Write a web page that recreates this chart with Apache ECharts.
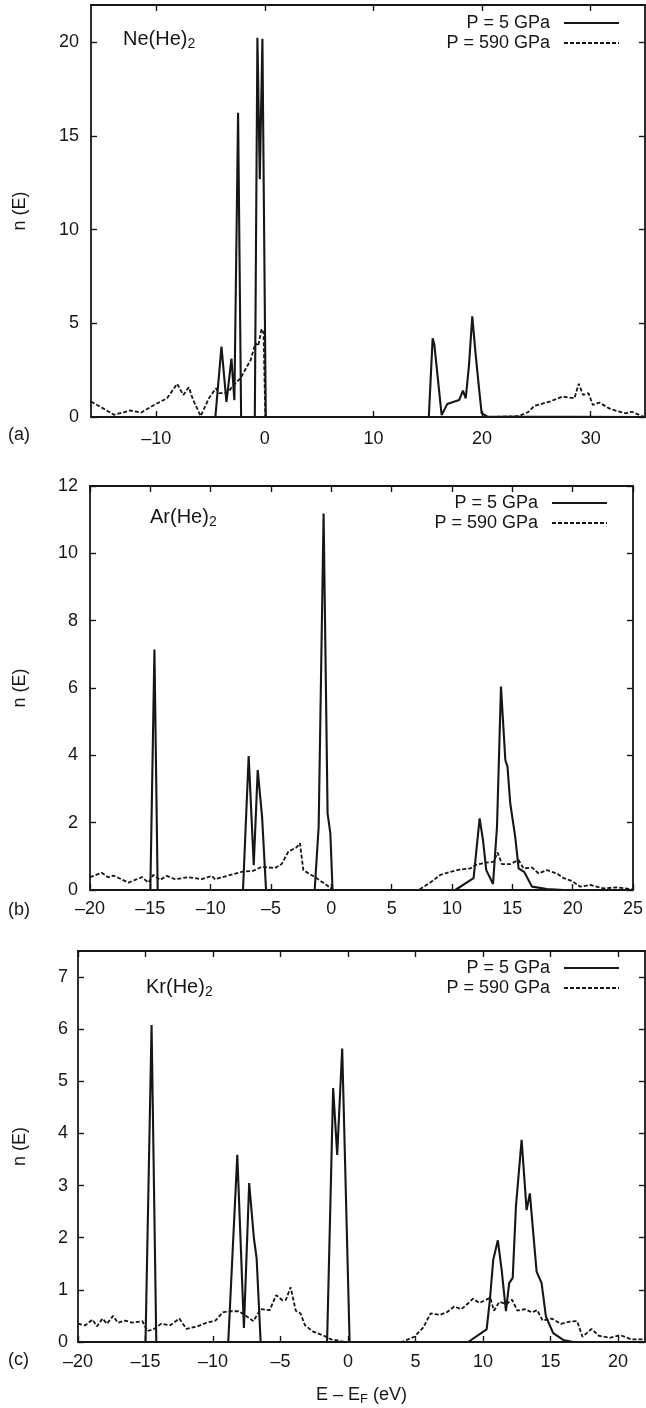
<!DOCTYPE html>
<html>
<head>
<meta charset="utf-8">
<script src="https://cdn.jsdelivr.net/npm/echarts@6/dist/echarts.min.js"></script>
<style>
  html, body { margin: 0; padding: 0; background: #ffffff; }
  #chart { width: 646px; height: 1408px; }
</style>
</head>
<body>
<div id="chart"></div>
<script>
// Density of states n(E) versus E - E_F (eV), pairs of [energy, n]
// (a) Ne(He)2
const neLowP = [[-16,0],[-4.55,0],[-3.99,3.76],[-3.53,0.8],[-3.07,3.12],[-2.8,0.9],[-2.46,16.25],[-2.18,0],
  [-0.92,0],[-0.68,20.25],[-0.46,12.7],[-0.22,20.2],[0.09,0],[15.1,0],[15.45,4.2],[15.6,3.9],[16.28,0.1],
  [16.8,0.7],[17.4,0.82],[17.9,0.91],[18.24,1.41],[18.5,1.0],[18.8,2.8],[19.1,5.37],[19.4,3.4],[19.71,1.6],
  [19.96,0.2],[20.5,0.02],[35,0]];
const neHighP = [[-16,0.82],[-15,0.5],[-13.9,0.12],[-13,0.25],[-12.4,0.35],[-11.4,0.23],[-10.2,0.64],[-9,1.0],
  [-8.07,1.77],[-7.5,1.18],[-7.0,1.59],[-6.6,0.91],[-5.9,0.05],[-5.15,1.0],[-4.5,1.53],[-4.2,1.27],[-3.5,1.27],
  [-2.85,1.71],[-2.24,2.07],[-1.3,3.05],[-0.86,3.95],[-0.6,3.8],[-0.3,4.7],[-0.12,4.5],[0.05,0],[21,0],
  [23.4,0.05],[24.3,0.28],[24.8,0.59],[26.2,0.82],[27.4,1.09],[28.5,1.0],[28.9,1.77],[29.3,1.18],[29.8,1.27],
  [30.2,0.64],[30.8,0.77],[31.7,0.46],[32.3,0.34],[33.2,0.2],[33.8,0.28],[34.7,0.05],[35,0.02]];

// (b) Ar(He)2
const arLowP = [[-20,0],[-15.0,0],[-14.66,7.14],[-14.39,0],[-7.32,0],[-6.85,3.98],[-6.43,0.74],[-6.1,3.56],
  [-5.74,2.18],[-5.41,0],[-1.38,0],[-1.05,1.88],[-0.64,11.18],[-0.31,2.27],[-0.08,1.68],[0.1,0],[10.27,0],
  [11.79,0.35],[12.29,2.13],[12.57,1.48],[12.84,0.59],[13.4,0.18],[13.73,1.88],[14.06,6.04],[14.42,3.86],
  [14.6,3.66],[14.83,2.57],[15.24,1.58],[15.52,0.64],[16.0,0.53],[16.63,0.1],[17.87,0.03],[19.25,0],[25,0]];
const arHighP = [[-20,0.38],[-19.03,0.51],[-18.5,0.38],[-18.06,0.43],[-16.82,0.22],[-16.26,0.3],[-15.7,0.38],
  [-15.16,0.22],[-14.75,0.45],[-14.19,0.3],[-13.64,0.42],[-12.95,0.32],[-11.85,0.38],[-10.74,0.32],[-9.92,0.42],
  [-9.64,0.32],[-8.53,0.43],[-7.43,0.54],[-6.46,0.57],[-5.77,0.69],[-4.67,0.65],[-4.12,0.77],[-3.56,1.14],
  [-2.87,1.27],[-2.6,1.39],[-2.32,0.59],[-1.35,0.38],[-0.52,0.18],[0.17,0],[7.23,0],[8.2,0.22],[9.03,0.45],
  [9.86,0.54],[10.69,0.61],[11.52,0.64],[11.93,0.74],[12.76,0.81],[13.45,0.84],[13.78,1.11],[14.14,0.77],
  [14.83,0.77],[15.52,0.89],[15.93,0.64],[16.63,0.67],[17.18,0.49],[17.87,0.59],[18.7,0.49],[19.25,0.35],
  [19.94,0.27],[20.63,0.1],[21.46,0.15],[22.56,0.05],[23.67,0.08],[25,0.02]];

// (c) Kr(He)2
const krLowP = [[-20,0],[-15.0,0],[-14.55,6.08],[-14.2,0],[-8.87,0],[-8.2,3.59],[-7.71,0.27],[-7.32,3.05],
  [-6.97,1.99],[-6.77,1.61],[-6.47,0],[-1.55,0],[-1.1,4.87],[-0.8,3.59],[-0.43,5.63],[0.12,0],[8.9,0],
  [10.27,0.24],[10.51,0.81],[10.76,1.58],[11.1,1.95],[11.38,1.39],[11.7,0.59],[11.94,1.13],[12.2,1.23],
  [12.44,2.6],[12.86,3.88],[13.23,2.53],[13.47,2.85],[13.97,1.35],[14.34,1.13],[14.66,0.49],[15.2,0.17],
  [15.94,0.04],[16.68,0],[22,0]];
const krHighP = [[-20,0.35],[-19.46,0.32],[-18.93,0.43],[-18.6,0.3],[-18.18,0.45],[-17.86,0.35],[-17.4,0.5],
  [-17.05,0.37],[-16.52,0.41],[-15.98,0.37],[-15.23,0.4],[-14.86,0.21],[-14.37,0.25],[-13.84,0.35],[-13.17,0.32],
  [-12.5,0.45],[-11.96,0.25],[-11.16,0.3],[-10.49,0.37],[-9.82,0.41],[-9.28,0.57],[-8.75,0.59],[-8.08,0.59],
  [-7.54,0.5],[-7.01,0.4],[-6.47,0.63],[-5.8,0.61],[-5.32,0.9],[-4.86,0.8],[-4.6,0.81],[-4.25,1.05],
  [-3.87,0.6],[-3.52,0.55],[-3.18,0.32],[-2.59,0.2],[-1.78,0.12],[-1.25,0.05],[-0.18,0],[3.98,0],[4.91,0.1],
  [5.58,0.28],[6.12,0.55],[6.79,0.52],[7.32,0.57],[7.86,0.68],[8.4,0.63],[8.8,0.72],[9.26,0.83],[9.74,0.75],
  [10.54,0.85],[10.81,0.6],[11.21,0.77],[11.75,0.73],[12.15,0.81],[12.55,0.6],[13.09,0.63],[13.62,0.57],
  [14.02,0.61],[14.42,0.41],[15.1,0.45],[15.76,0.35],[16.43,0.39],[16.97,0.4],[17.37,0.1],[18.04,0.25],
  [18.58,0.12],[19.38,0.08],[20.18,0.13],[20.99,0.05],[22,0.05]];

// Legend names and tick labels
const seriesNames = ['P = 5 GPa', 'P = 590 GPa'];
const neXTicks = [-10, 0, 10, 20, 30];
const neYTicks = [0, 5, 10, 15, 20];
const arXTicks = [-20, -15, -10, -5, 0, 5, 10, 15, 20, 25];
const arYTicks = [0, 2, 4, 6, 8, 10, 12];
const krXTicks = [-20, -15, -10, -5, 0, 5, 10, 15, 20];
const krYTicks = [0, 1, 2, 3, 4, 5, 6, 7];

const ink = '#161616';
const font = '"Liberation Sans", Arial, Helvetica, sans-serif';
const fs = 18;

// Panel layout: plot frame, axis ranges and text placement
const panels = [
  { low: neLowP, high: neHighP, xr: [-16, 35], yr: [0, 22], xt: neXTicks, yt: neYTicks,
    grid: { left: 91, top: 5, width: 554, height: 412 }, xMargin: 13, yMargin: 12, yNameGap: 62,
    legend: { right: 26, top: 13 } },
  { low: arLowP, high: arHighP, xr: [-20, 25], yr: [0, 12], xt: arXTicks, yt: arYTicks,
    grid: { left: 90, top: 486, width: 543, height: 404 }, xMargin: 10, yMargin: 12, yNameGap: 61,
    legend: { right: 38, top: 493 } },
  { low: krLowP, high: krHighP, xr: [-20, 22], yr: [0, 7.5], xt: krXTicks, yt: krYTicks,
    grid: { left: 78, top: 951, width: 567, height: 391 }, xMargin: 11, yMargin: 10, yNameGap: 49,
    legend: { right: 26, top: 958 } }
];

const dash = v => (v < 0 ? '\u2013' + Math.abs(v) : String(v));
const lineW = 1.8;

function xAxisPair(p, i, isLast) {
  const common = {
    type: 'value', gridIndex: i, min: p.xr[0], max: p.xr[1],
    splitLine: { show: false },
    axisLine: { show: true, onZero: false, lineStyle: { color: ink, width: lineW } }
  };
  const bottom = Object.assign({}, common, {
    position: 'bottom',
    axisTick: { show: true, inside: true, length: 6, customValues: p.xt, lineStyle: { color: ink, width: 1.4 } },
    axisLabel: { show: true, customValues: p.xt, margin: p.xMargin, color: ink, fontSize: fs, fontFamily: font, formatter: dash }
  });
  if (isLast) {
    Object.assign(bottom, {
      name: 'E \u2013 E{s|F} (eV)', nameLocation: 'middle', nameGap: 42,
      nameTextStyle: { color: ink, fontSize: fs, fontFamily: font,
        rich: { s: { fontSize: 13, fontFamily: font, color: ink, padding: [9, 0, 0, 0] } } }
    });
  }
  const top = Object.assign({}, common, {
    position: 'top',
    axisTick: { show: true, inside: true, length: 6, customValues: p.xt, lineStyle: { color: ink, width: 1.4 } },
    axisLabel: { show: false }
  });
  return [bottom, top];
}

function yAxisPair(p, i) {
  const common = {
    type: 'value', gridIndex: i, min: p.yr[0], max: p.yr[1],
    splitLine: { show: false },
    axisLine: { show: true, onZero: false, lineStyle: { color: ink, width: lineW } }
  };
  const left = Object.assign({}, common, {
    position: 'left',
    name: 'n (E)', nameLocation: 'middle', nameGap: p.yNameGap,
    nameTextStyle: { color: ink, fontSize: fs, fontFamily: font },
    axisTick: { show: true, inside: true, length: 6, customValues: p.yt, lineStyle: { color: ink, width: 1.4 } },
    axisLabel: { show: true, customValues: p.yt, margin: p.yMargin, color: ink, fontSize: fs, fontFamily: font }
  });
  const right = Object.assign({}, common, {
    position: 'right',
    axisTick: { show: true, inside: true, length: 6, customValues: p.yt, lineStyle: { color: ink, width: 1.4 } },
    axisLabel: { show: false }
  });
  return [left, right];
}

const grids = [], xAxes = [], yAxes = [], series = [], legends = [];
panels.forEach((p, i) => {
  grids.push(Object.assign({ containLabel: false }, p.grid));
  xAxes.push(...xAxisPair(p, i, i === panels.length - 1));
  yAxes.push(...yAxisPair(p, i));
  series.push({
    name: seriesNames[0], type: 'line', xAxisIndex: 2 * i, yAxisIndex: 2 * i,
    data: p.low, symbol: 'none', showSymbol: false, smooth: false, clip: true, z: 3,
    lineStyle: { color: ink, width: 2.1, type: 'solid' }, itemStyle: { color: ink }
  });
  series.push({
    name: seriesNames[1], type: 'line', xAxisIndex: 2 * i, yAxisIndex: 2 * i,
    data: p.high, symbol: 'none', showSymbol: false, smooth: false, clip: true, z: 2,
    lineStyle: { color: ink, width: 1.8, type: [4, 2] }, itemStyle: { color: ink }
  });
  legends.push({
    data: seriesNames, orient: 'vertical', align: 'right', right: p.legend.right, top: p.legend.top,
    padding: 0, itemGap: 0, itemWidth: 55, itemHeight: 14, selectedMode: false,
    itemStyle: { opacity: 0 },
    textStyle: { color: ink, fontSize: fs, fontFamily: font, lineHeight: 20, padding: [0, 9, 0, 0] }
  });
});

// Panel tags and compound names
const tagStyle = { fill: ink, font: fs + 'px ' + font };
const nameRich = { s: { fontSize: 14, fontFamily: font, fill: ink, padding: [10, 0, 0, 0] } };
const graphics = [
  { type: 'text', left: 8, top: 426, style: Object.assign({ text: '(a)' }, tagStyle) },
  { type: 'text', left: 8, top: 901, style: Object.assign({ text: '(b)' }, tagStyle) },
  { type: 'text', left: 8, top: 1351, style: Object.assign({ text: '(c)' }, tagStyle) },
  { type: 'text', left: 123, top: 29, style: { text: 'Ne(He){s|2}', fill: ink, font: '20px ' + font, rich: nameRich } },
  { type: 'text', left: 150, top: 507, style: { text: 'Ar(He){s|2}', fill: ink, font: '20px ' + font, rich: nameRich } },
  { type: 'text', left: 146, top: 977, style: { text: 'Kr(He){s|2}', fill: ink, font: '20px ' + font, rich: nameRich } }
];

const chart = echarts.init(document.getElementById('chart'), null, { renderer: 'canvas' });
chart.setOption({
  animation: false,
  backgroundColor: '#ffffff',
  grid: grids,
  xAxis: xAxes,
  yAxis: yAxes,
  legend: legends,
  series: series,
  graphic: graphics
});
</script>
</body>
</html>
